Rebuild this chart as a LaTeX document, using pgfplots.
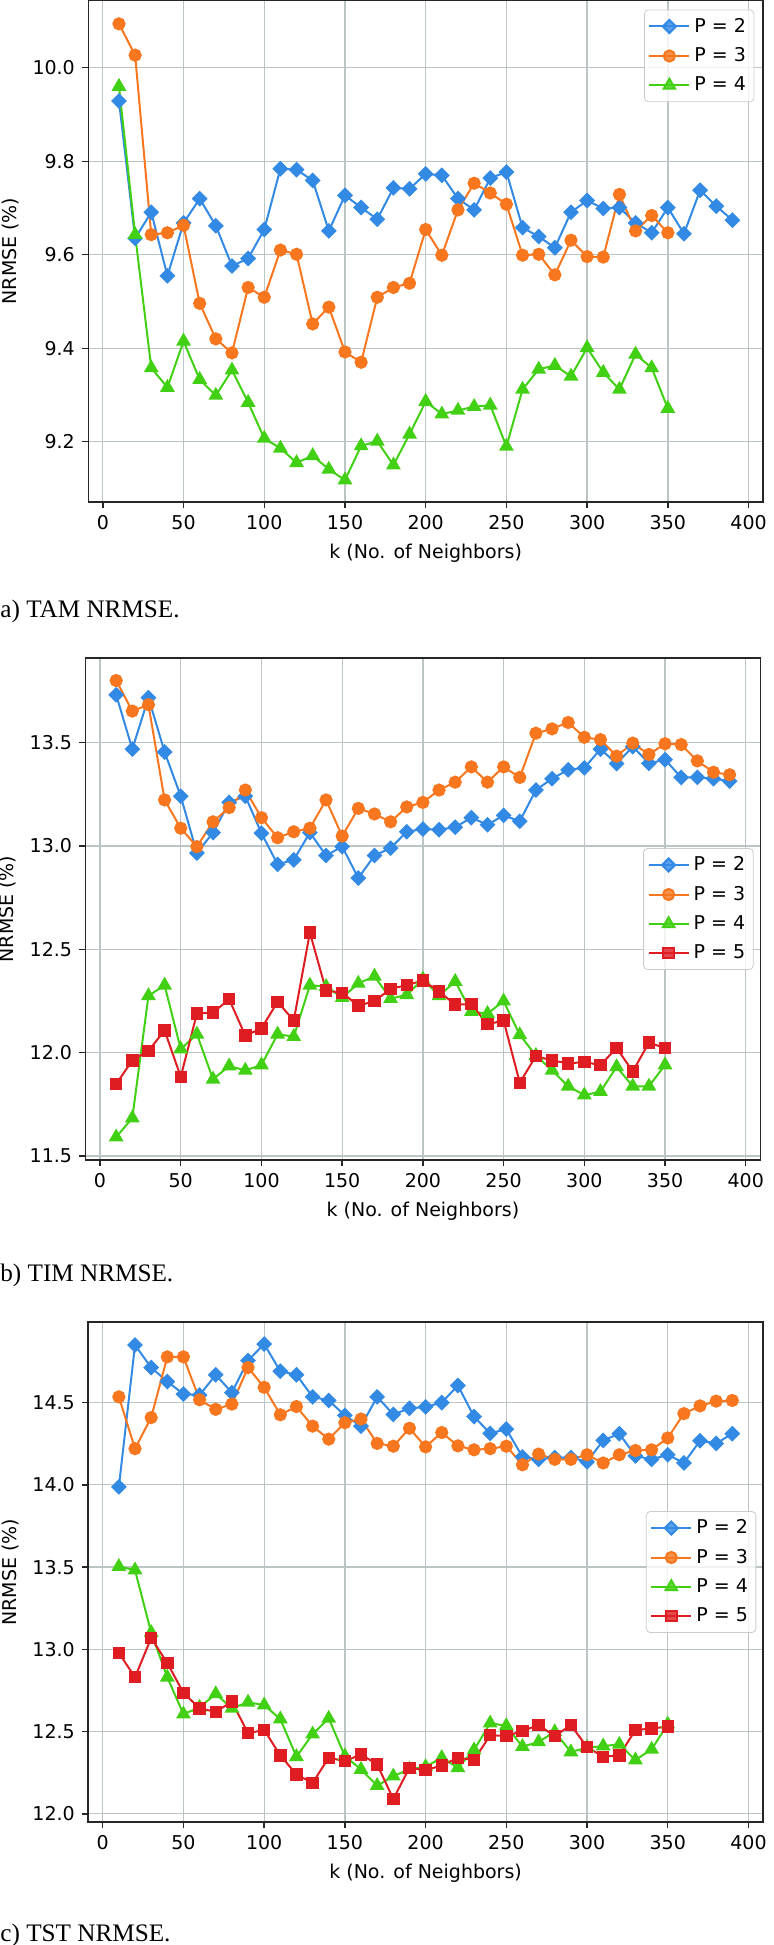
\documentclass[border=0pt]{standalone}
\usepackage{fontspec}
\setmainfont{DejaVu Sans}
\newfontfamily\capfont{Liberation Serif}
\usepackage{pgfplots}
\pgfplotsset{compat=1.18}

\definecolor{cP2}{RGB}{50,138,228}
\definecolor{cP3}{RGB}{247,118,30}
\definecolor{cP4}{RGB}{66,208,20}
\definecolor{cP5}{RGB}{222,28,34}
\definecolor{gridc}{RGB}{188,197,197}

\newcommand{\tfont}{\fontsize{9.5}{11}\selectfont}

\pgfplotsset{
  nrmse/.style={
    anchor=north west, scale only axis,
    width=337.4pt, height=251pt,
    xmin=-9, xmax=409, xtick={0,50,...,400},
    tick pos=left, tick align=outside, major tick length=3.2pt,
    grid=major, grid style={gridc, line width=0.65pt},
    axis line style={line width=0.7pt, black!85},
    every tick/.style={black!85, line width=0.7pt},
    tick label style={font=\tfont},
    label style={font=\tfont},
    /pgf/number format/assume math mode=true,
    y tick label style={/pgf/number format/.cd, fixed, fixed zerofill, precision=1},
    xlabel={k (No. of Neighbors)},
    ylabel={NRMSE (\%)},
    legend cell align=left,
    legend style={font=\tfont, draw=black!20, fill=white, fill opacity=0.8,
      text opacity=1, rounded corners=2pt, row sep=2.2pt, inner sep=2pt},
    legend image code/.code={\draw[mark repeat=2,mark phase=2]
      plot coordinates {(0pt,0pt)(10pt,0pt)(20pt,0pt)};},
    every axis plot/.append style={line width=1pt},
  },
  p2/.style={cP2, mark=square*, mark size=2.3pt, mark options={rotate=45}},
  p3/.style={cP3, mark=*, mark size=2.8pt},
  p4/.style={cP4, mark=triangle*, mark size=3.3pt},
  p5/.style={cP5, mark=square*, mark size=2.6pt},
}

\begin{document}
\begin{tikzpicture}
\useasboundingbox (0,0) rectangle (386.5pt,-972.5pt);

% a) TAM
\begin{axis}[nrmse, at={(44.15pt,0pt)},
  ymin=9.071, ymax=10.145, ytick={9.2,9.4,...,10.0},
  legend style={at={(0.987,0.981)}, anchor=north east}]
\addplot[p2] coordinates {(10,9.929)(20,9.635)(30,9.691)(40,9.555)(50,9.668)(60,9.720)(70,9.662)(80,9.576)(90,9.592)(100,9.654)(110,9.784)(120,9.782)(130,9.759)(140,9.651)(150,9.727)(160,9.701)(170,9.676)(180,9.743)(190,9.741)(200,9.773)(210,9.770)(220,9.720)(230,9.696)(240,9.764)(250,9.777)(260,9.658)(270,9.639)(280,9.615)(290,9.691)(300,9.716)(310,9.699)(320,9.701)(330,9.668)(340,9.647)(350,9.701)(360,9.645)(370,9.738)(380,9.704)(390,9.674)};
\addlegendentry{P = 2}
\addplot[p3] coordinates {(10,10.094)(20,10.027)(30,9.643)(40,9.647)(50,9.663)(60,9.496)(70,9.420)(80,9.390)(90,9.530)(100,9.509)(110,9.610)(120,9.601)(130,9.452)(140,9.488)(150,9.392)(160,9.370)(170,9.509)(180,9.530)(190,9.539)(200,9.654)(210,9.599)(220,9.696)(230,9.753)(240,9.732)(250,9.708)(260,9.599)(270,9.601)(280,9.557)(290,9.631)(300,9.596)(310,9.595)(320,9.729)(330,9.651)(340,9.684)(350,9.647)};
\addlegendentry{P = 3}
\addplot[p4] coordinates {(10,9.960)(20,9.643)(30,9.358)(40,9.316)(50,9.415)(60,9.333)(70,9.299)(80,9.353)(90,9.284)(100,9.207)(110,9.186)(120,9.155)(130,9.170)(140,9.141)(150,9.118)(160,9.191)(170,9.201)(180,9.150)(190,9.216)(200,9.286)(210,9.259)(220,9.267)(230,9.275)(240,9.278)(250,9.190)(260,9.312)(270,9.355)(280,9.363)(290,9.340)(300,9.401)(310,9.348)(320,9.312)(330,9.387)(340,9.358)(350,9.271)};
\addlegendentry{P = 4}
\end{axis}
\node[anchor=base west, inner sep=0pt, font=\capfont\fontsize{12.6}{14}\selectfont] at (0pt,-308.75pt) {a) TAM NRMSE.};

% b) TIM
\begin{axis}[nrmse, at={(42.75pt,-329pt)},
  ymin=11.48, ymax=13.91, ytick={11.5,12.0,...,13.5},
  legend style={at={(0.99,0.5)}, anchor=east}]
\addplot[p2] coordinates {(10,13.732)(20,13.469)(30,13.718)(40,13.455)(50,13.241)(60,12.966)(70,13.065)(80,13.211)(90,13.241)(100,13.062)(110,12.911)(120,12.933)(130,13.065)(140,12.954)(150,12.997)(160,12.845)(170,12.954)(180,12.990)(190,13.069)(200,13.082)(210,13.079)(220,13.091)(230,13.137)(240,13.103)(250,13.148)(260,13.120)(270,13.271)(280,13.326)(290,13.369)(300,13.378)(310,13.469)(320,13.399)(330,13.481)(340,13.400)(350,13.418)(360,13.332)(370,13.332)(380,13.326)(390,13.314)};
\addlegendentry{P = 2}
\addplot[p3] coordinates {(10,13.801)(20,13.653)(30,13.684)(40,13.223)(50,13.086)(60,12.997)(70,13.117)(80,13.186)(90,13.271)(100,13.137)(110,13.040)(120,13.069)(130,13.086)(140,13.223)(150,13.048)(160,13.182)(170,13.155)(180,13.117)(190,13.189)(200,13.211)(210,13.271)(220,13.309)(230,13.383)(240,13.309)(250,13.383)(260,13.332)(270,13.546)(280,13.567)(290,13.598)(300,13.526)(310,13.515)(320,13.435)(330,13.498)(340,13.443)(350,13.495)(360,13.491)(370,13.412)(380,13.357)(390,13.345)};
\addlegendentry{P = 3}
\addplot[p4] coordinates {(10,11.591)(20,11.683)(30,12.275)(40,12.326)(50,12.017)(60,12.089)(70,11.871)(80,11.935)(90,11.914)(100,11.940)(110,12.089)(120,12.077)(130,12.326)(140,12.320)(150,12.266)(160,12.335)(170,12.369)(180,12.261)(190,12.280)(200,12.355)(210,12.275)(220,12.344)(230,12.198)(240,12.189)(250,12.249)(260,12.086)(270,11.986)(280,11.914)(290,11.837)(300,11.794)(310,11.811)(320,11.931)(330,11.837)(340,11.837)(350,11.940)};
\addlegendentry{P = 4}
\addplot[p5] coordinates {(10,11.848)(20,11.962)(30,12.009)(40,12.107)(50,11.883)(60,12.189)(70,12.194)(80,12.258)(90,12.082)(100,12.117)(110,12.246)(120,12.155)(130,12.581)(140,12.301)(150,12.289)(160,12.227)(170,12.249)(180,12.309)(190,12.326)(200,12.349)(210,12.296)(220,12.232)(230,12.235)(240,12.137)(250,12.155)(260,11.854)(270,11.983)(280,11.962)(290,11.948)(300,11.954)(310,11.940)(320,12.022)(330,11.909)(340,12.048)(350,12.022)};
\addlegendentry{P = 5}
\end{axis}
\node[anchor=base west, inner sep=0pt, font=\capfont\fontsize{12.6}{14}\selectfont] at (0pt,-640.5pt) {b) TIM NRMSE.};

% c) TST
\begin{axis}[nrmse, at={(44.1pt,-661pt)}, height=250pt,
  ymin=11.95, ymax=14.99, ytick={12.0,12.5,...,14.5},
  legend style={at={(0.99,0.5)}, anchor=east}]
\addplot[p2] coordinates {(10,13.988)(20,14.850)(30,14.713)(40,14.628)(50,14.552)(60,14.546)(70,14.669)(80,14.561)(90,14.756)(100,14.856)(110,14.691)(120,14.669)(130,14.535)(140,14.513)(150,14.422)(160,14.357)(170,14.535)(180,14.428)(190,14.465)(200,14.474)(210,14.500)(220,14.604)(230,14.415)(240,14.313)(250,14.339)(260,14.170)(270,14.155)(280,14.166)(290,14.166)(300,14.140)(310,14.270)(320,14.311)(330,14.176)(340,14.155)(350,14.183)(360,14.133)(370,14.268)(380,14.252)(390,14.311)};
\addlegendentry{P = 2}
\addplot[p3] coordinates {(10,14.535)(20,14.220)(30,14.409)(40,14.778)(50,14.778)(60,14.517)(70,14.459)(80,14.491)(90,14.713)(100,14.593)(110,14.426)(120,14.476)(130,14.357)(140,14.278)(150,14.378)(160,14.400)(170,14.252)(180,14.235)(190,14.344)(200,14.231)(210,14.318)(220,14.237)(230,14.213)(240,14.220)(250,14.235)(260,14.122)(270,14.187)(280,14.155)(290,14.155)(300,14.183)(310,14.133)(320,14.183)(330,14.209)(340,14.213)(350,14.285)(360,14.433)(370,14.480)(380,14.509)(390,14.513)};
\addlegendentry{P = 3}
\addplot[p4] coordinates {(10,13.503)(20,13.482)(30,13.102)(40,12.830)(50,12.606)(60,12.647)(70,12.729)(80,12.641)(90,12.678)(100,12.661)(110,12.576)(120,12.347)(130,12.484)(140,12.580)(150,12.351)(160,12.269)(170,12.171)(180,12.229)(190,12.271)(200,12.286)(210,12.341)(220,12.280)(230,12.388)(240,12.551)(250,12.535)(260,12.408)(270,12.437)(280,12.498)(290,12.376)(300,12.402)(310,12.412)(320,12.422)(330,12.327)(340,12.392)(350,12.545)};
\addlegendentry{P = 4}
\addplot[p5] coordinates {(10,12.978)(20,12.830)(30,13.069)(40,12.917)(50,12.735)(60,12.641)(70,12.620)(80,12.682)(90,12.490)(100,12.510)(110,12.355)(120,12.239)(130,12.188)(140,12.341)(150,12.320)(160,12.361)(170,12.300)(180,12.090)(190,12.280)(200,12.265)(210,12.294)(220,12.341)(230,12.327)(240,12.478)(250,12.473)(260,12.504)(270,12.539)(280,12.473)(290,12.539)(300,12.406)(310,12.347)(320,12.355)(330,12.510)(340,12.518)(350,12.531)};
\addlegendentry{P = 5}
\end{axis}
\node[anchor=base west, inner sep=0pt, font=\capfont\fontsize{12.6}{14}\selectfont] at (0pt,-970.5pt) {c) TST NRMSE.};
\end{tikzpicture}
\end{document}
